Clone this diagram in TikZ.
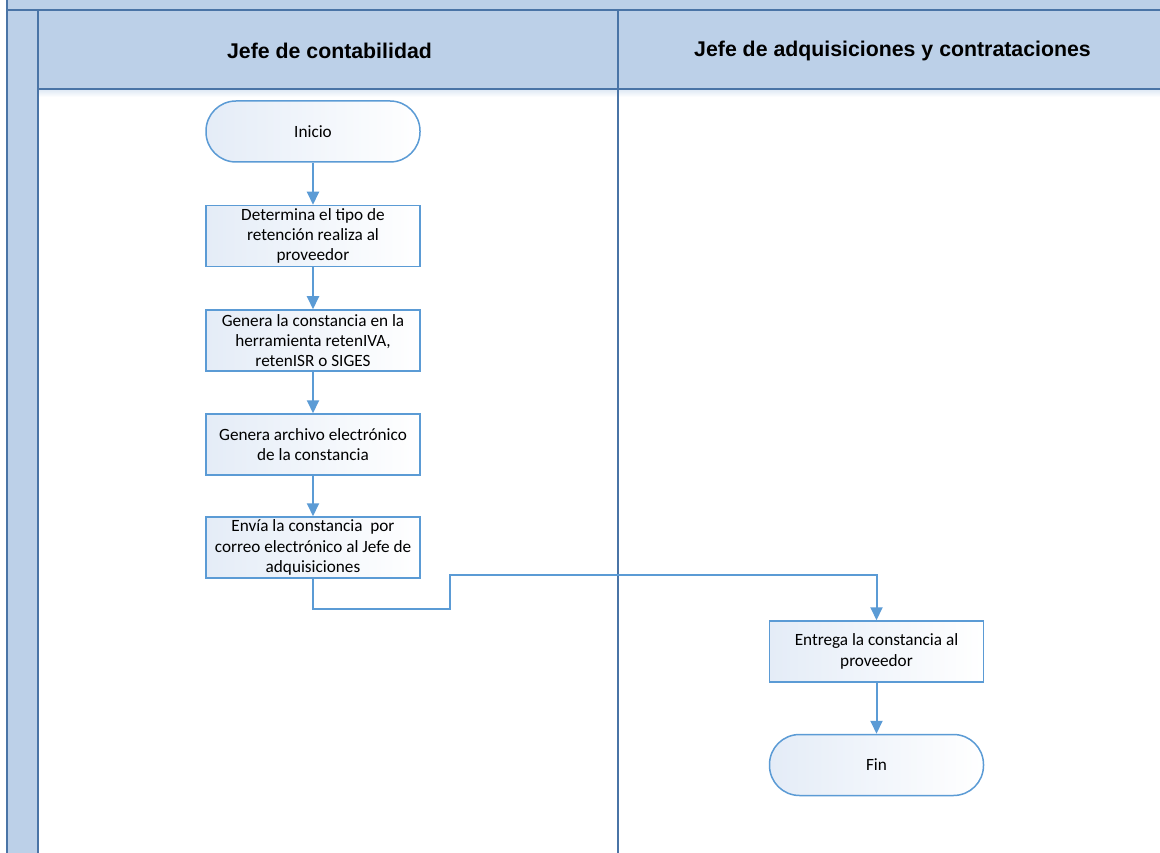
\documentclass[tikz,border=0pt]{standalone}
\usepackage{fontspec}
\setmainfont{Carlito}
\newfontfamily\headfont{Liberation Sans}
\usetikzlibrary{arrows.meta}
\definecolor{lanefill}{HTML}{BCD0E8}
\definecolor{laneline}{HTML}{4A74A6}
\definecolor{flowline}{HTML}{5B9BD5}
\definecolor{boxtint}{HTML}{E4ECF7}
\tikzset{
  lanebox/.style={fill=lanefill, draw=laneline, line width=1.3pt},
  lanetitle/.style={font=\headfont\bfseries\fontsize{21.3}{25}\selectfont, text=black},
  procbox/.style={draw=flowline, line width=1.5pt, minimum width=214pt, minimum height=61pt,
    left color=boxtint, right color=white, align=center, inner sep=1pt,
    font=\fontsize{17.2}{20.3}\selectfont},
  termbox/.style={procbox, rounded corners=30pt},
  flow/.style={draw=flowline, line width=2pt, -{Triangle[length=13pt,width=12pt]}},
}
\begin{document}
\begin{tikzpicture}[x=1pt,y=-1pt]
\useasboundingbox (0,0) rectangle (1160,853);
% pool frame: top band and the vertical strip at the left
\path[fill=white] (0,0) rectangle (1160,853);
\path[lanebox] (7,-5) rectangle (1165,10);
\path[lanebox] (7,10) rectangle (38,858);
% lane headers
\path[lanebox] (38,10) rectangle (618,89);
\path[lanebox] (618,10) rectangle (1165,89);
\shade[top color=lanefill!45, bottom color=white] (39,90) rectangle (1160,97);
\draw[laneline, line width=1.3pt] (38,89) -- (1165,89);
\draw[laneline, line width=1.3pt] (618,10) -- (618,858);
\node[lanetitle] (laneA) at (329.5,51) {Jefe de contabilidad};
\node[lanetitle] (laneB) at (892.5,51) {Jefe de adquisiciones y contrataciones};

% steps of the process
\node[termbox] (inicio) at (313,131.5) {Inicio};
\node[procbox] (det) at (313,236) {Determina el tipo de\\retención realiza al\\proveedor};
\node[procbox] (gen) at (313,340.5) {Genera la constancia en la\\herramienta retenIVA,\\retenISR o SIGES};
\node[procbox] (arch) at (313,444.5) {Genera archivo electrónico\\de la constancia};
\node[procbox] (env) at (313,547.5) {Envía la constancia\ \ por\\correo electrónico al Jefe de\\adquisiciones};
\node[procbox] (ent) at (876.5,651.5) {Entrega la constancia al\\proveedor};
\node[termbox] (fin) at (876.5,765) {Fin};

% connectors
\draw[flow] (inicio) -- (det);
\draw[flow] (det) -- (gen);
\draw[flow] (gen) -- (arch);
\draw[flow] (arch) -- (env);
\draw[flow] (env.south) |- (450,609) |- (876.5,575) -- (ent.north);
\draw[flow] (ent) -- (fin);
\end{tikzpicture}
\end{document}
